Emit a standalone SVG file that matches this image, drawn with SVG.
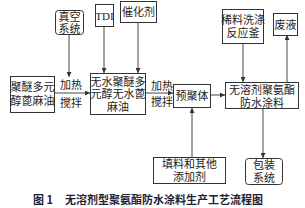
<svg xmlns="http://www.w3.org/2000/svg" width="305" height="208" viewBox="0 0 305 208">
<style>
.box{fill:#fff;stroke:#333;stroke-width:1}
.t{font-family:"Liberation Serif","Noto Sans CJK SC",serif;font-size:11px;fill:#222;text-anchor:middle;dominant-baseline:central}
.c{stroke:#444;stroke-width:1;fill:none;marker-end:url(#ah)}
.cap{font-family:"Noto Sans CJK SC",sans-serif;font-size:11px;font-weight:bold;fill:#1e2235;dominant-baseline:central}
</style>
<defs>
<marker id="ah" viewBox="0 0 8 8" refX="8" refY="4" markerWidth="5" markerHeight="5" orient="auto" markerUnits="userSpaceOnUse">
<path d="M0,0L8,4L0,8z" fill="#333"/>
</marker>
</defs>
<rect width="305" height="208" fill="#fff"/>
<g id="connectors">
<path class="c" d="M69,35V77"/>
<path class="c" d="M104,26V73"/>
<path class="c" d="M138,23V73"/>
<path class="c" d="M54,93H90"/>
<path class="c" d="M145,93H173"/>
<path class="c" d="M210,95H225"/>
<path class="c" d="M243,43V82"/>
<path class="c" d="M287,82V35"/>
<path class="c" d="M263,108V158"/>
<path class="c" d="M192,157V108"/>
</g>
<g id="vacuum"><rect class="box" x="55.5" y="10.5" width="28" height="24" rx="3"/><text class="t" x="69.5" y="17">真空</text><text class="t" x="69.5" y="29">系统</text></g>
<g id="tdi"><rect class="box" x="95.5" y="4.5" width="18" height="22"/><text class="t" x="104.5" y="15.5">TDI</text></g>
<g id="catalyst"><rect class="box" x="120.5" y="1.5" width="36" height="21"/><text class="t" x="138.5" y="12">催化剂</text></g>
<g id="reactor"><rect class="box" x="222.5" y="9.5" width="41" height="34"/><text class="t" x="243" y="20">稀料洗涤</text><text class="t" x="243" y="33">反应釜</text></g>
<g id="waste"><rect class="box" x="273.5" y="13.5" width="24" height="22"/><text class="t" x="285.5" y="24.5">废液</text></g>
<g id="polyol"><rect class="box" x="10.5" y="76.5" width="44" height="36"/><text class="t" x="32.5" y="87">聚醚多元</text><text class="t" x="32.5" y="101">醇蓖麻油</text></g>
<g id="step1"><text class="t" x="71" y="85">加热</text><text class="t" x="71" y="103">搅拌</text></g>
<g id="anhydrous"><rect class="box" x="90.5" y="73.5" width="55" height="41"/><text class="t" x="118" y="82">无水聚醚多</text><text class="t" x="118" y="94">元醇无水蓖</text><text class="t" x="118" y="106.5">麻油</text></g>
<g id="step2"><text class="t" x="162" y="86">加热</text><text class="t" x="162" y="102">搅拌</text></g>
<g id="prepolymer"><rect class="box" x="173.5" y="84.5" width="37" height="23"/><text class="t" x="192" y="96">预聚体</text></g>
<g id="coating"><rect class="box" x="225.5" y="82.5" width="73" height="26"/><text class="t" x="262" y="89.5">无溶剂聚氨酯</text><text class="t" x="262" y="102.5">防水涂料</text></g>
<g id="filler"><rect class="box" x="153.5" y="157.5" width="72" height="26"/><text class="t" x="189.5" y="164">填料和其他</text><text class="t" x="189.5" y="177">添加剂</text></g>
<g id="packing"><rect class="box" x="245.5" y="158.5" width="37" height="26" rx="3"/><text class="t" x="264" y="165">包装</text><text class="t" x="264" y="178">系统</text></g>
<g id="caption"><text class="cap" x="33" y="199">图 1</text><text class="cap" x="65" y="199">无溶剂型聚氨酯防水涂料生产工艺流程图</text></g>
</svg>
